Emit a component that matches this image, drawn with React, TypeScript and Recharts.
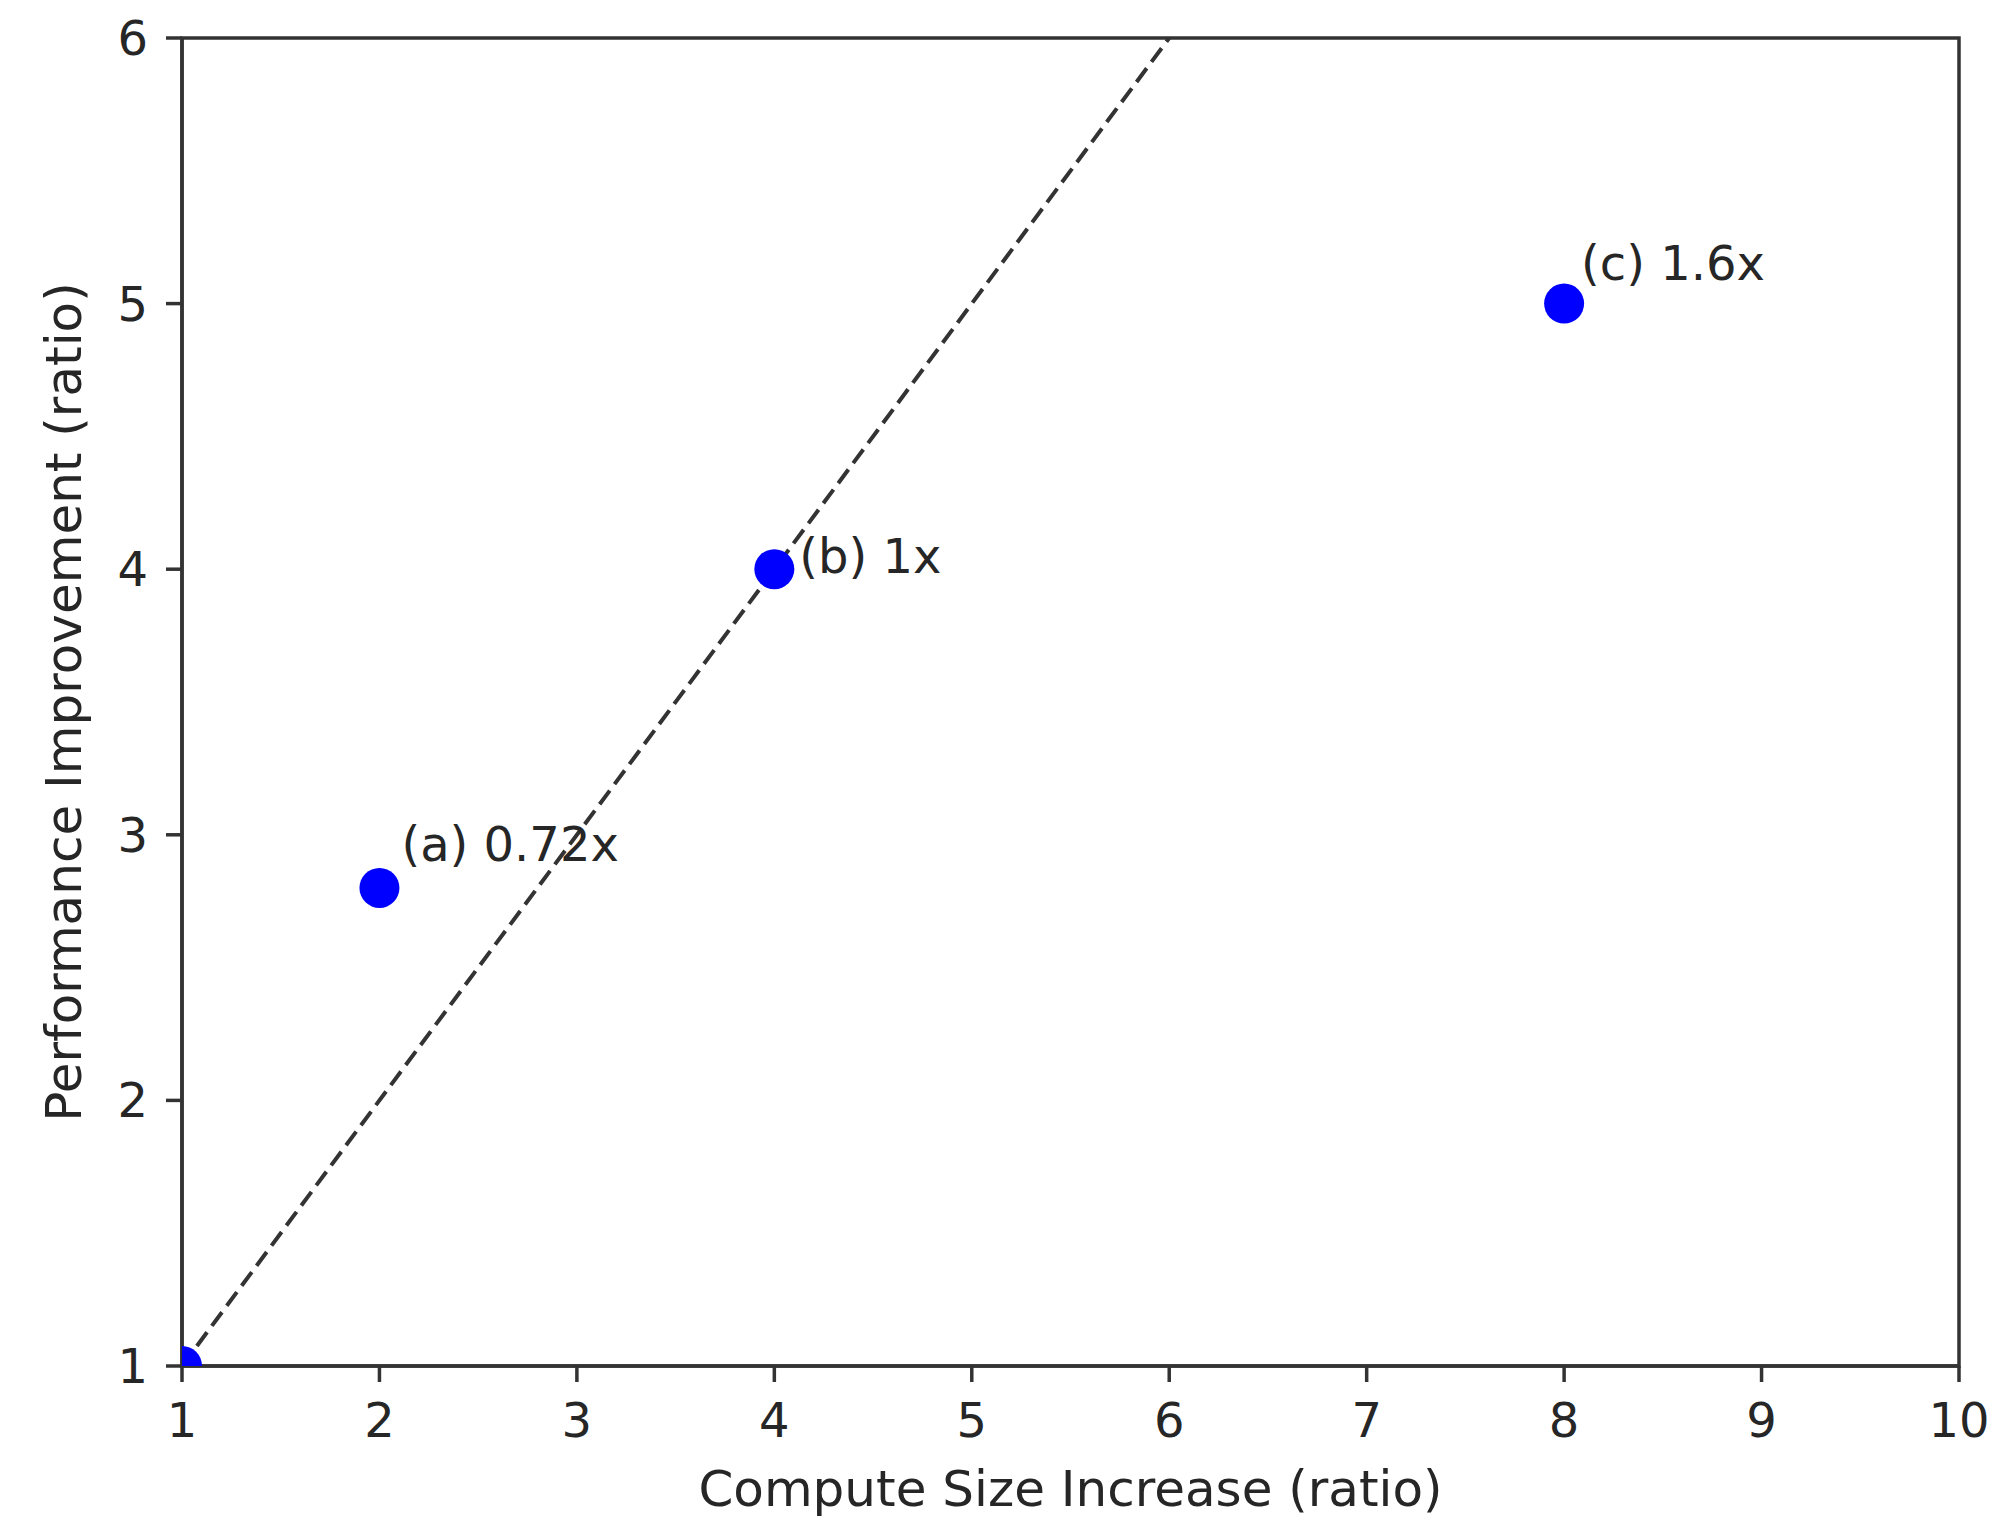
import { ScatterChart, Scatter, XAxis, YAxis, ReferenceLine, ReferenceArea } from 'recharts';

// Valores
const computeSize = [1, 2, 4, 8];
const performance = [1, 2.8, 4, 5];
const pointLabels = ['', '(a) 0.72x', '(b) 1x', '(c) 1.6x'];
const labelOffsets = [
  [0, 0],
  [22, -27],
  [25, 4],
  [17, -24],
];

const xTicks = [1, 2, 3, 4, 5, 6, 7, 8, 9, 10];
const yTicks = [1, 2, 3, 4, 5, 6];

// Línea de referencia y = x
const idealLine = [
  { x: 1, y: 1 },
  { x: 6, y: 6 },
];

const data = computeSize.map((x, i) => ({
  x,
  y: performance[i],
  label: pointLabels[i],
  idx: i,
}));

const FONT = 'DejaVu Sans, sans-serif';
const TEXT = '#262626';
const AXIS = '#333333';

const tickStyle = { fontFamily: FONT, fontSize: 48, fill: TEXT };

function renderPoint(props: any) {
  const { cx, cy, payload } = props;
  const [dx, dy] = labelOffsets[payload.idx];
  return (
    <g>
      <circle cx={cx} cy={cy} r={20} fill="#0000ff" />
      {payload.label && (
        <text x={cx + dx} y={cy + dy} fontFamily={FONT} fontSize={48} fill={TEXT}>
          {payload.label}
        </text>
      )}
    </g>
  );
}

function YTitle({ viewBox }: any) {
  const cx = viewBox.x + 64;
  const cy = viewBox.y + viewBox.height / 2;
  return (
    <text
      x={cx}
      y={cy}
      transform={`rotate(-90 ${cx} ${cy})`}
      textAnchor="middle"
      dominantBaseline="central"
      fontFamily={FONT}
      fontSize={50}
      fill={TEXT}
    >
      Performance Improvement (ratio)
    </text>
  );
}

function XTitle({ viewBox }: any) {
  const cx = viewBox.x + viewBox.width / 2;
  const cy = viewBox.y + 123;
  return (
    <text
      x={cx}
      y={cy}
      textAnchor="middle"
      dominantBaseline="central"
      fontFamily={FONT}
      fontSize={50}
      fill={TEXT}
    >
      Compute Size Increase (ratio)
    </text>
  );
}

export default function App() {
  return (
    <div style={{ position: 'absolute', left: 0, top: 0, background: '#fff' }}>
      <ScatterChart width={2000} height={1536} margin={{ top: 38, right: 41, bottom: 0, left: 0 }}>
        <XAxis
          type="number"
          dataKey="x"
          domain={[1, 10]}
          ticks={xTicks}
          allowDataOverflow
          height={170}
          tick={tickStyle}
          tickSize={16}
          tickMargin={21}
          axisLine={{ stroke: AXIS, strokeWidth: 3.5 }}
          tickLine={{ stroke: AXIS, strokeWidth: 3.5 }}
          label={<XTitle />}
        />
        <YAxis
          type="number"
          dataKey="y"
          domain={[1, 6]}
          ticks={yTicks}
          allowDataOverflow
          width={182}
          tick={tickStyle}
          tickSize={16}
          tickMargin={18}
          axisLine={{ stroke: AXIS, strokeWidth: 3.5 }}
          tickLine={{ stroke: AXIS, strokeWidth: 3.5 }}
          label={<YTitle />}
        />
        <ReferenceArea x1={1} x2={10} y1={1} y2={6} fill="none" stroke={AXIS} strokeWidth={3.5} fillOpacity={0} />
        <Scatter data={data} shape={renderPoint} isAnimationActive={false} />
        <ReferenceLine
          segment={idealLine}
          stroke={AXIS}
          strokeWidth={4}
          strokeDasharray="17 8"
        />
      </ScatterChart>
    </div>
  );
}
